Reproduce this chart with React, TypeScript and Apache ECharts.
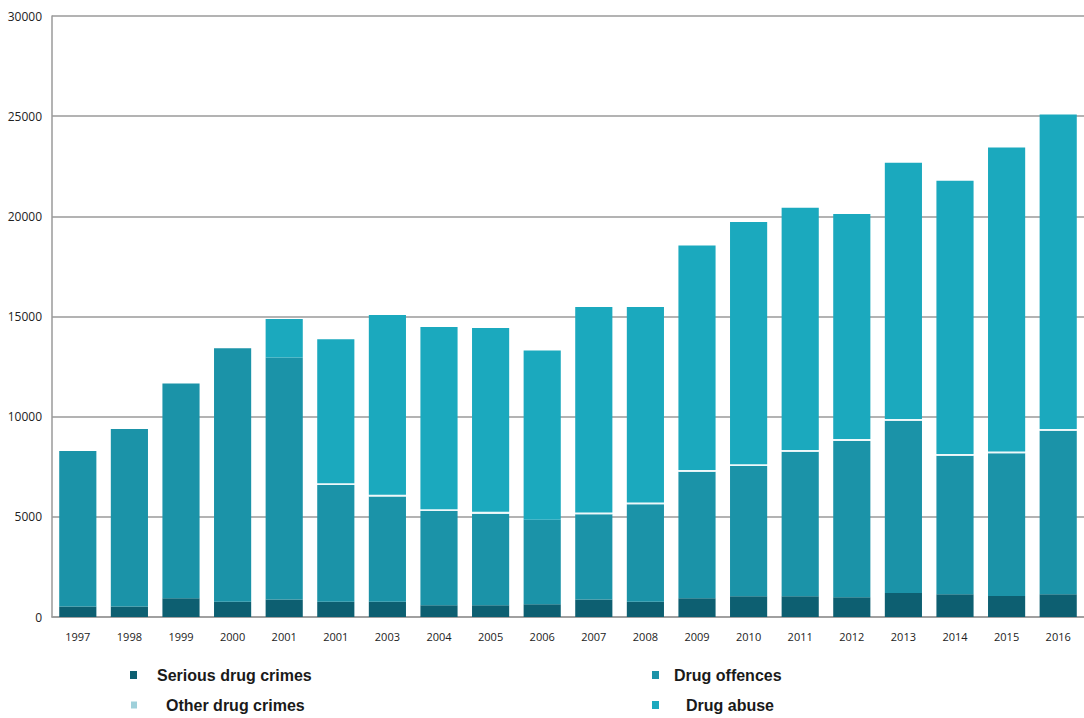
import React, { useEffect, useRef } from "react";
import * as echarts from "echarts";

// Year labels as printed under the bars (the sixth label repeats "2001")
const years = [
  "1997", "1998", "1999", "2000", "2001", "2001", "2003", "2004", "2005", "2006",
  "2007", "2008", "2009", "2010", "2011", "2012", "2013", "2014", "2015", "2016",
];

const seriousDrugCrimes = [
  520, 520, 940, 760, 870, 760, 760, 590, 590, 640,
  870, 760, 930, 1030, 1030, 980, 1200, 1140, 1050, 1140,
];

const drugOffences = [
  7770, 8870, 10710, 12650, 12080, 5830, 5250, 4700, 4570, 4210,
  4260, 4870, 6320, 6510, 7220, 7810, 8590, 6910, 7120, 8160,
];

const otherDrugCrimes = [
  0, 0, 0, 0, 0, 90, 90, 90, 90, 0,
  90, 90, 90, 90, 90, 90, 90, 90, 90, 90,
];

const drugAbuse = [
  0, 0, 0, 0, 1930, 7180, 8970, 9100, 9170, 8450,
  10260, 9760, 11210, 12090, 12090, 11240, 12800, 13640, 15170, 15690,
];

const yTicks = { min: 0, max: 30000, interval: 5000 };

const COLORS = {
  serious: "#0d5f71",
  offences: "#1b93a8",
  other: "#eef8fa",
  otherLegend: "#9fd0da",
  abuse: "#1ba9be",
};

const legendFont = {
  fontFamily: "'Liberation Sans', Arial, sans-serif",
  fontSize: 16,
  fontWeight: "bold" as const,
  color: "#1a1a1a",
};

function legendAt(
  name: string,
  color: string,
  left: number,
  top: number,
  padLeft: number,
  w = 7,
  h = 8
) {
  return {
    left,
    top,
    padding: 0,
    orient: "horizontal",
    icon: "rect",
    itemWidth: w,
    itemHeight: h,
    selectedMode: false,
    data: [{ name, itemStyle: { color } }],
    textStyle: { ...legendFont, padding: [0, 0, 0, padLeft] },
  };
}

export default function App() {
  const ref = useRef<HTMLDivElement>(null);

  useEffect(() => {
    if (!ref.current) return;
    const chart = echarts.init(ref.current, null, { renderer: "svg" });

    const barBase = {
      type: "bar",
      stack: "total",
      barWidth: "72%",
    };

    chart.setOption({
      animation: false,
      backgroundColor: "#ffffff",
      grid: { left: 52, right: 0, top: 16, bottom: 101, containLabel: false },
      xAxis: {
        type: "category",
        data: years,
        axisLine: { show: true, lineStyle: { color: "#9a9a9a", width: 1.5 } },
        axisTick: { show: false },
        axisLabel: {
          fontFamily: "'Open Sans', sans-serif",
          fontSize: 11,
          color: "#222",
          margin: 14,
          interval: 0,
        },
      },
      yAxis: {
        type: "value",
        min: yTicks.min,
        max: yTicks.max,
        interval: yTicks.interval,
        axisLine: { show: true, lineStyle: { color: "#9a9a9a", width: 1.5 } },
        axisTick: { show: false },
        splitLine: { show: true, lineStyle: { color: "#9a9a9a", width: 1.5 } },
        axisLabel: {
          fontFamily: "'Open Sans', sans-serif",
          fontSize: 12,
          color: "#222",
          margin: 10,
          formatter: (v: number) => String(v),
        },
      },
      legend: [
        legendAt("Serious drug crimes", COLORS.serious, 130, 667, 15),
        legendAt("Other drug crimes", COLORS.otherLegend, 131, 697, 24, 6, 7),
        legendAt("Drug offences", COLORS.offences, 652, 667, 10),
        legendAt("Drug abuse", COLORS.abuse, 652, 697, 22),
      ],
      series: [
        {
          ...barBase,
          name: "Serious drug crimes",
          data: seriousDrugCrimes,
          itemStyle: { color: COLORS.serious },
        },
        {
          ...barBase,
          name: "Drug offences",
          data: drugOffences,
          itemStyle: { color: COLORS.offences },
        },
        {
          ...barBase,
          name: "Other drug crimes",
          data: otherDrugCrimes,
          itemStyle: { color: COLORS.other },
        },
        {
          ...barBase,
          name: "Drug abuse",
          data: drugAbuse,
          itemStyle: { color: COLORS.abuse },
        },
      ],
    });

    return () => chart.dispose();
  }, []);

  return (
    <div
      ref={ref}
      style={{ position: "fixed", left: 0, top: 0, width: 1084, height: 718 }}
    />
  );
}
